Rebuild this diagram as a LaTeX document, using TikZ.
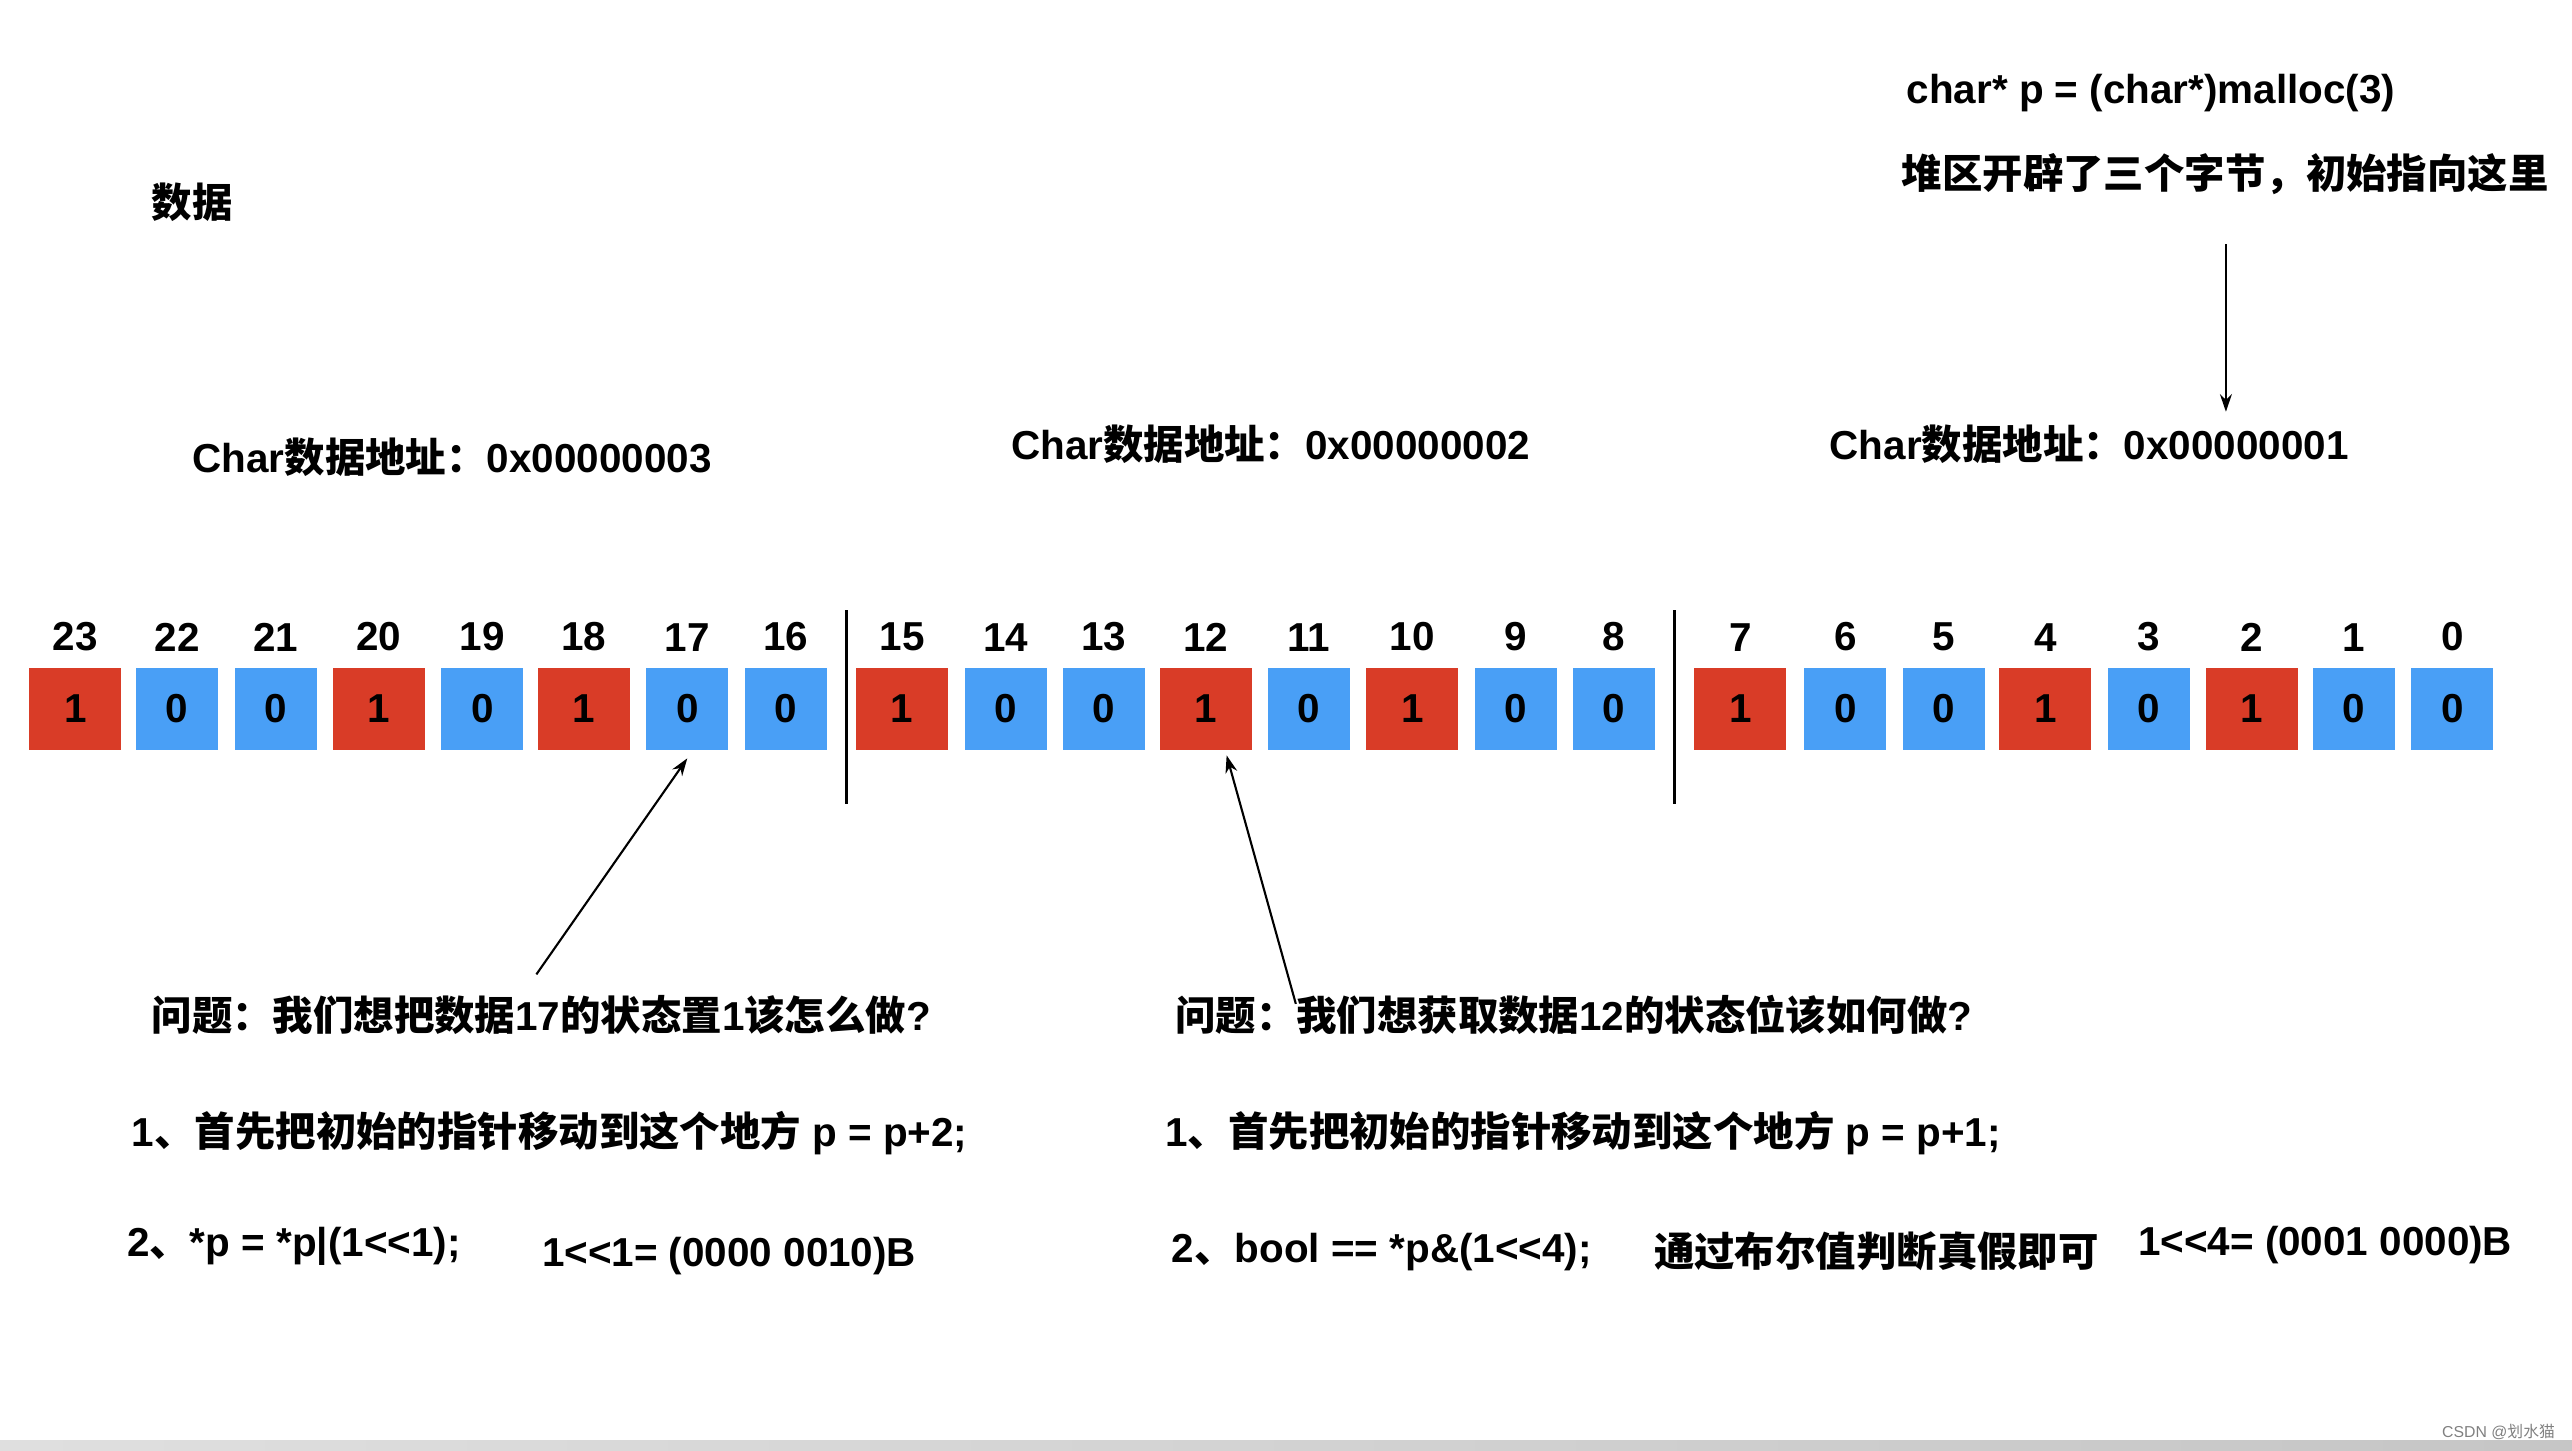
\documentclass[tikz,border=0pt]{standalone}
\usepackage{fontspec}
\setmainfont{Liberation Sans}
\newfontfamily\zhfont{Noto Sans CJK SC}
\newcommand\zh[1]{{\zhfont #1}}
\usepackage{xcolor}
\usetikzlibrary{arrows.meta,positioning}
\definecolor{bitred}{RGB}{217,60,39}
\definecolor{bitblue}{RGB}{73,159,246}

\begin{document}
\begin{tikzpicture}[
    x=0.016403cm, y=-0.016403cm,
    font=\fontsize{11.5}{14}\selectfont\bfseries,
    bit1/.style={rectangle, fill=bitred, minimum width=0.92cm, minimum height=0.82cm, inner sep=0pt},
    bit0/.style={rectangle, fill=bitblue, minimum width=0.82cm, minimum height=0.82cm, inner sep=0pt},
    idx/.style={inner sep=0pt},
    txt/.style={anchor=west, inner sep=0pt},
    sep/.style={line width=0.9pt},
    arrow/.style={->, >={Stealth[length=5pt, width=3.4pt]}, line width=0.6pt}
]
\useasboundingbox (0,0) rectangle (1568,884);

% Bottom strip
\shade[left color=gray!25, right color=gray!45] (0,878) rectangle (1568,884);

% Bits and their numbers
\foreach \n/\v/\x in {23/1/46, 22/0/108, 21/0/168, 20/1/231, 19/0/294, 18/1/356, 17/0/419, 16/0/479,
                      15/1/550, 14/0/613, 13/0/673, 12/1/735, 11/0/798, 10/1/861, 9/0/924, 8/0/984,
                      7/1/1061, 6/0/1125, 5/0/1185, 4/1/1247, 3/0/1310, 2/1/1373, 1/0/1435, 0/0/1495} {
    \node[bit\v] (b\n) at (\x,432) {\v};
    \node[idx, above=0.15cm of b\n] (l\n) {\n};
}

% Byte separators
\draw[sep] (516,372) -- (516,490);
\draw[sep] (1021,372) -- (1021,490);

% Addresses
\node[txt] (title) at (92,123) {\zh{数据}};
\node[txt] (addr3) at (117,279) {Char\zh{数据地址：}0x00000003};
\node[txt] (addr2) at (616,271) {Char\zh{数据地址：}0x00000002};
\node[txt] (addr1) at (1115,271) {Char\zh{数据地址：}0x00000001};

% Pointer
\node[txt] (malloc) at (1162,57) {char* p = (char*)malloc(3)};
\node[txt] (heap) at (1159,106) {\zh{堆区开辟了三个字节，初始指向这里}};

% Question 1
\node[txt] (q1) at (92,619) {\zh{问题：我们想把数据}17\zh{的状态置}1\zh{该怎么做}?};
\node[txt] (s1a) at (80,691) {1\zh{、首先把初始的指针移动到这个地方} p = p+2;};
\node[txt] (s2a) at (77,760) {2\zh{、}*p = *p|(1<{}<1);};
\node[txt] (m1) at (330,766) {1<{}<1= (0000 0010)B};

% Question 2
\node[txt] (q2) at (716,619) {\zh{问题：我们想获取数据}12\zh{的状态位该如何做}?};
\node[txt] (s1b) at (710,691) {1\zh{、首先把初始的指针移动到这个地方} p = p+1;};
\node[txt] (s2b) at (714,763) {2\zh{、}bool == *p\&(1<{}<4);};
\node[txt] (hint) at (1008,763) {\zh{通过布尔值判断真假即可}};
\node[txt] (m2) at (1303,759) {1<{}<4= (0001 0000)B};

\node[anchor=east, inner sep=0pt, text=gray, font=\fontsize{4.5}{5}\selectfont] (mark) at (1558,873) {CSDN @\zh{划水猫}};

% Arrows
\coordinate (q1tail) at (327,594);
\coordinate (q2tail) at (790,612);
\coordinate (ptail) at (1357,149);
\coordinate (phead) at (1357,251);

\draw[arrow] (q1tail) -- ([yshift=-0.08cm]b17.south);
\draw[arrow] (q2tail) -- ([xshift=0.21cm, yshift=-0.05cm]b12.south);
\draw[arrow] (ptail) -- (phead);

\end{tikzpicture}
\end{document}
